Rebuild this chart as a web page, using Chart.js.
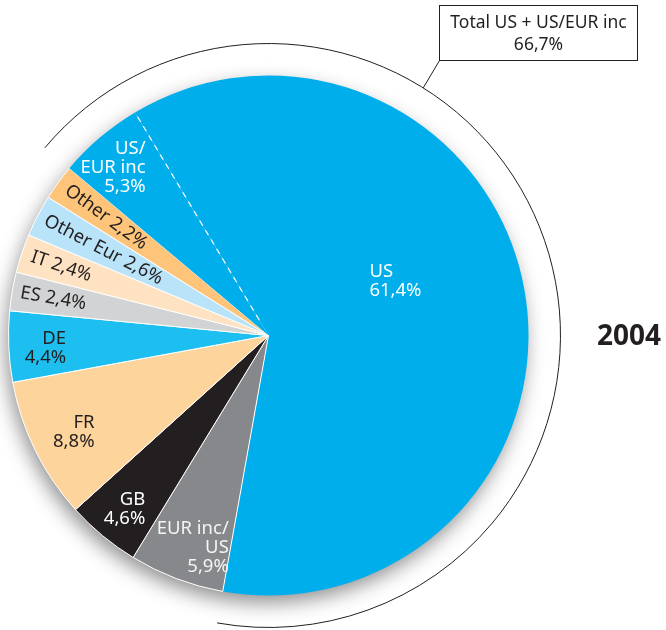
<!DOCTYPE html>
<html><head><meta charset="utf-8">
<script src="https://cdn.jsdelivr.net/npm/chart.js@4/dist/chart.umd.min.js"></script>
<style>html,body{margin:0;padding:0;background:#fff}canvas{display:block}</style>
</head><body>
<canvas id="c" width="666" height="630"></canvas>
<script>
// ---- data ----
const categories = ['US','EUR inc/US','GB','FR','DE','ES','IT','Other Eur','Other','US/EUR inc'];
const shares = [61.4, 5.9, 4.6, 8.8, 4.4, 2.4, 2.4, 2.6, 2.2, 5.3];
const sliceLabels = [
  ['US','61,4%'], ['EUR inc/','US','5,9%'], ['GB','4,6%'], ['FR','8,8%'], ['DE','4,4%'],
  ['ES 2,4%'], ['IT 2,4%'], ['Other Eur 2,6%'], ['Other 2,2%'], ['US/','EUR inc','5,3%']
];
const totalLabel = ['Total US + US/EUR inc', '66,7%'];
const yearLabel = '2004';

// ---- styles ----
const colors = ['#00aeec','#87888b','#231f20','#fdd49b','#1cbff0','#d1d3d4','#fee2c2','#b8e3f8','#fdc47a','#00aeec'];
const borderWidths = [0,1,1,1,1,1,1,1,1,0];
const FONT = '"Noto Sans", sans-serif';
const DARK = '#231f20';
// label placement: angle (deg from top, clockwise) or 'mid', radius fraction, alignment, colour, rotated
const labelStyle = [
  {a:61.9,  f:0.44, align:'left',  color:'#fff'},
  {a:-169.4,f:0.83, align:'right', color:'#f4f4f4'},
  {a:-144.7,f:0.82, align:'right', color:'#fff'},
  {a:-119,  f:0.765,align:'right', color:DARK},
  {a:-93.7, f:0.78, align:'right', color:DARK},
  {a:'mid', f:0.84, align:'center',color:DARK, rot:true},
  {a:'mid', f:0.84, align:'center',color:DARK, rot:true},
  {a:'mid', f:0.715,align:'center',color:DARK, rot:true},
  {a:'mid', f:0.773,align:'center',color:DARK, rot:true},
  {a:-36.2, f:0.80, align:'right', color:'#fff'}
];

const pieExtras = {
  id: 'pieExtras',
  beforeDatasetsDraw(chart) {
    const el = chart.getDatasetMeta(0).data[0];
    const ctx = chart.ctx;
    ctx.save();
    ctx.shadowColor = 'rgba(0,0,0,0.45)';
    ctx.shadowBlur = 20;
    ctx.shadowOffsetX = -3;
    ctx.shadowOffsetY = 8;
    ctx.fillStyle = '#fff';
    ctx.beginPath();
    ctx.arc(el.x, el.y, el.outerRadius - 1, 0, Math.PI * 2);
    ctx.fill();
    ctx.restore();
  },
  afterDatasetsDraw(chart) {
    const ctx = chart.ctx;
    const meta = chart.getDatasetMeta(0);
    const first = meta.data[0];
    const last = meta.data[meta.data.length - 1];
    const x = first.x, y = first.y, R = first.outerRadius;
    ctx.save();
    // dashed separator between US and US/EUR inc
    ctx.strokeStyle = '#fff';
    ctx.lineWidth = 1.2;
    ctx.setLineDash([6, 5]);
    ctx.beginPath();
    ctx.moveTo(x + 18 * Math.cos(first.startAngle), y + 18 * Math.sin(first.startAngle));
    ctx.lineTo(x + R * Math.cos(first.startAngle), y + R * Math.sin(first.startAngle));
    ctx.stroke();
    ctx.setLineDash([]);
    // outer bracket arc around US + US/EUR inc
    const rr = R * 1.123;
    ctx.strokeStyle = DARK;
    ctx.lineWidth = 1;
    ctx.beginPath();
    ctx.arc(x, y, rr, last.startAngle, first.endAngle);
    ctx.stroke();
    // leader line to box
    const la = 32 * Math.PI / 180;
    ctx.beginPath();
    ctx.moveTo(x + rr * Math.sin(la), y - rr * Math.cos(la));
    ctx.lineTo(439.5, 60.5);
    ctx.stroke();
    // box
    ctx.fillStyle = '#fff';
    ctx.fillRect(439.5, 5.5, 198, 55);
    ctx.strokeRect(439.5, 5.5, 198, 55);
    ctx.fillStyle = DARK;
    ctx.font = '17.5px ' + FONT;
    ctx.textAlign = 'center';
    ctx.textBaseline = 'middle';
    ctx.fillText(totalLabel[0], 538.5, 23);
    ctx.fillText(totalLabel[1], 538.5, 45);
    // year
    ctx.font = 'bold 28px ' + FONT;
    ctx.textAlign = 'left';
    ctx.fillText(yearLabel, 597, 337);

    // slice labels
    ctx.font = '18.5px ' + FONT;
    const lh = 19;
    meta.data.forEach((el, i) => {
      const st = labelStyle[i];
      const lines = sliceLabels[i];
      ctx.fillStyle = st.color;
      if (st.rot) {
        const mid = (el.startAngle + el.endAngle) / 2;
        const px = x + st.f * R * Math.cos(mid);
        const py = y + st.f * R * Math.sin(mid);
        ctx.save();
        ctx.translate(px, py);
        ctx.rotate(mid + Math.PI);
        ctx.textAlign = 'center';
        ctx.textBaseline = 'middle';
        ctx.fillText(lines[0], 0, 0);
        ctx.restore();
      } else {
        const a = st.a * Math.PI / 180;
        const px = x + st.f * R * Math.sin(a);
        const py = y - st.f * R * Math.cos(a);
        ctx.textAlign = st.align;
        ctx.textBaseline = 'middle';
        const y0 = py - (lines.length - 1) * lh / 2;
        lines.forEach((t, k) => ctx.fillText(t, px, y0 + k * lh));
      }
    });
    ctx.restore();
  }
};

new Chart(document.getElementById('c'), {
  type: 'pie',
  data: {
    labels: categories,
    datasets: [{
      data: shares,
      backgroundColor: colors,
      borderColor: '#fff',
      borderWidth: borderWidths,
      hoverOffset: 0
    }]
  },
  options: {
    responsive: false,
    animation: false,
    events: [],
    rotation: -30.9,
    layout: { padding: { left: 8, right: 137, top: 75, bottom: 34 } },
    plugins: { legend: { display: false }, tooltip: { enabled: false } }
  },
  plugins: [pieExtras]
});
</script>
</body></html>
